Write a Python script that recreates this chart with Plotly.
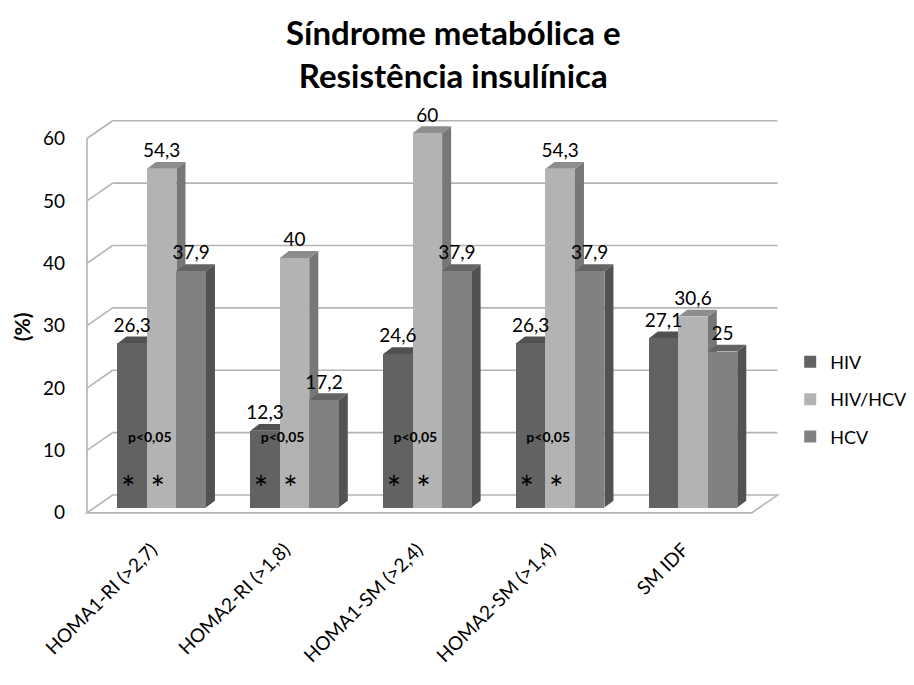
import plotly.graph_objects as go

# ---------------- data ----------------
categories = ["HOMA1-RI (>2,7)", "HOMA2-RI (>1,8)", "HOMA1-SM (>2,4)", "HOMA2-SM (>1,4)", "SM IDF"]
series_names = ["HIV", "HIV/HCV", "HCV"]
hiv = [26.3, 12.3, 24.6, 26.3, 27.1]
hiv_hcv = [54.3, 40, 60, 54.3, 30.6]
hcv = [37.9, 17.2, 37.9, 37.9, 25]
y_ticks = [0, 10, 20, 30, 40, 50, 60]
y_ticktext = ["0", "10", "20", "30", "40", "50", "60"]
sig_groups = [0, 1, 2, 3]          # categories marked p<0,05
sig_series = [0, 1]                # series marked with *
sig_text = "p<0,05"
title_text = "Síndrome metabólica e<br>Resistência insulínica"
y_title = "(%)"

# ---------------- style ----------------
FONT = "Lato"
front_colors = ["#626262", "#b3b3b3", "#818181"]
top_colors = ["#505050", "#8d8d8d", "#646464"]
side_colors = ["#474747", "#777777", "#525252"]
GRID = "#b4b4b4"
BAR_W = 0.222            # bar width in category units
DX, DY = 0.068, 1.1      # bar depth projection (x units, y units)
WALL_DX, FRONT_Y, BACK_Y = 0.193, -0.85, 2.0
X_FRONT_LEFT, X_FRONT_RIGHT = -0.5625, 4.443
SIG_DX, SIG_Y = -0.09, 11.0
STAR_Y = 2.4

values = [hiv, hiv_hcv, hcv]
n = len(categories)
offsets = [(s - 1) * BAR_W for s in range(len(values))]

fig = go.Figure()

# front faces (real bars)
for s, name in enumerate(series_names):
    fig.add_trace(go.Bar(
        x=[i + offsets[s] for i in range(n)], y=values[s], width=BAR_W,
        name=name, marker=dict(color=front_colors[s], line=dict(width=0)),
        legendgroup=name, hoverinfo="y",
    ))

shapes = []
# floor
xbl, xbr = X_FRONT_LEFT + WALL_DX, X_FRONT_RIGHT + WALL_DX
shapes.append(dict(type="path", xref="x", yref="y", layer="below",
                   path=f"M{X_FRONT_LEFT},{FRONT_Y} L{xbl},{BACK_Y} L{xbr},{BACK_Y} L{X_FRONT_RIGHT},{FRONT_Y} Z",
                   fillcolor="white", line=dict(color=GRID, width=1.6)))
# back wall gridlines + left wall slants
for v in y_ticks[1:]:
    shapes.append(dict(type="line", xref="x", yref="y", layer="below",
                       x0=xbl, x1=xbr, y0=v + BACK_Y, y1=v + BACK_Y, line=dict(color=GRID, width=1.6)))
    shapes.append(dict(type="line", xref="x", yref="y", layer="below",
                       x0=X_FRONT_LEFT, x1=xbl, y0=v + FRONT_Y, y1=v + BACK_Y, line=dict(color=GRID, width=1.6)))
shapes.append(dict(type="line", xref="x", yref="y", layer="below",
                   x0=X_FRONT_LEFT, x1=X_FRONT_LEFT, y0=y_ticks[0] + FRONT_Y, y1=y_ticks[-1] + FRONT_Y,
                   line=dict(color=GRID, width=1.6)))
# side faces then top faces
for s in range(len(values)):
    for i in range(n):
        c = i + offsets[s]
        v = values[s][i]
        a = c + BAR_W / 2
        shapes.append(dict(type="path", xref="x", yref="y", layer="below",
                           path=f"M{a},0 L{a + DX},{DY} L{a + DX},{v + DY} L{a},{v} Z",
                           fillcolor=side_colors[s], line=dict(width=0)))
for s in range(len(values)):
    for i in range(n):
        c = i + offsets[s]
        v = values[s][i]
        l = c - BAR_W / 2
        a = c + BAR_W / 2
        shapes.append(dict(type="path", xref="x", yref="y", layer="below",
                           path=f"M{l},{v} L{l + DX},{v + DY} L{a + DX},{v + DY} L{a},{v} Z",
                           fillcolor=top_colors[s], line=dict(width=0)))

# value labels
lx, ly, lt = [], [], []
for s in range(len(values)):
    for i in range(n):
        lx.append(i + offsets[s])
        ly.append(values[s][i] + DY)
        lt.append(f"{values[s][i]:g}".replace(".", ","))
fig.add_trace(go.Scatter(x=lx, y=ly, text=lt, mode="text", textposition="top center",
                         textfont=dict(family=FONT, size=19, color="black"),
                         showlegend=False, hoverinfo="skip"))

# significance marks
fig.add_trace(go.Scatter(x=[g + SIG_DX for g in sig_groups], y=[SIG_Y] * len(sig_groups),
                         text=[f"<b>{sig_text}</b>"] * len(sig_groups), mode="text",
                         textposition="middle center",
                         textfont=dict(family=FONT, size=14, color="black"),
                         showlegend=False, hoverinfo="skip"))
sx = [g + offsets[s] - 0.03 for g in sig_groups for s in sig_series]
fig.add_trace(go.Scatter(x=sx, y=[STAR_Y] * len(sx), text=["*"] * len(sx), mode="text",
                         textposition="middle center",
                         textfont=dict(family=FONT, size=34, color="black"),
                         showlegend=False, hoverinfo="skip"))

fig.update_layout(
    width=906, height=677,
    margin=dict(l=74, r=128, t=94, b=165, autoexpand=False),
    paper_bgcolor="white", plot_bgcolor="white",
    barmode="overlay", bargap=0,
    shapes=shapes,
    font=dict(family=FONT, color="black"),
    legend=dict(x=1.006, y=0.422, xanchor="left", yanchor="top", tracegroupgap=11,
                font=dict(family=FONT, size=18, color="black"), bgcolor="rgba(0,0,0,0)"),
    xaxis=dict(range=[-0.6, 4.7], tickvals=list(range(n)), ticktext=categories, tickangle=-45,
               showgrid=False, zeroline=False, showline=False, ticks="", automargin=False,
               tickfont=dict(family=FONT, size=19, color="black"), ticklabelstandoff=14,
               ticklabelshift=-10),
    yaxis=dict(range=[-2, 65], tickvals=[v + FRONT_Y for v in y_ticks], ticktext=y_ticktext,
               showgrid=False, zeroline=False, showline=False, ticks="", automargin=False,
               tickfont=dict(family=FONT, size=19, color="black"), ticklabelstandoff=16),
    annotations=[
        dict(text=f"<b>{title_text}</b>", x=0.527, y=1.115, xref="paper", yref="paper",
             xanchor="center", yanchor="middle", showarrow=False,
             font=dict(family=FONT, size=33, color="black")),
        dict(text=f"<b>{y_title}</b>", x=-0.0857, y=0.4625, xref="paper", yref="paper",
             xanchor="center", yanchor="middle",
             textangle=-90, showarrow=False, font=dict(family=FONT, size=21, color="black")),
    ],
)

fig.write_html("out.html")
